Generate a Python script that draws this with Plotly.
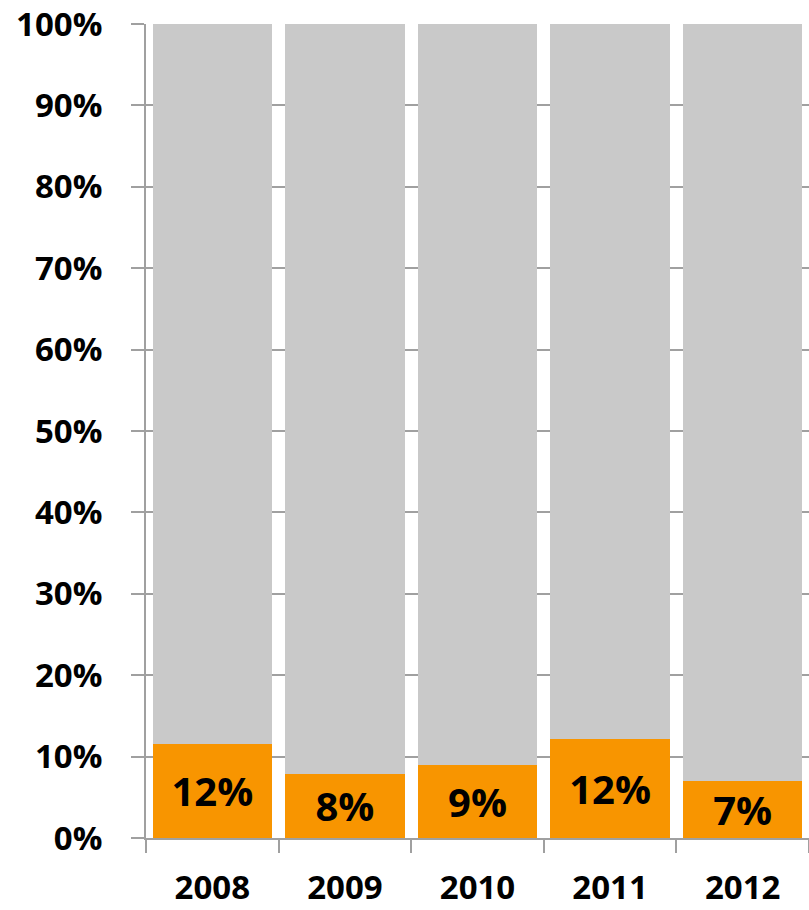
import plotly.graph_objects as go

years = ["2008", "2009", "2010", "2011", "2012"]
share = [11.6, 7.9, 9.0, 12.2, 7.0]          # orange share, percent
rest = [100 - v for v in share]              # remainder up to 100%

ORANGE = "#F89500"
GREY = "#C9C9C9"
AXIS = "#A0A0A0"
FONT = "Open Sans"

fig = go.Figure()
fig.add_trace(go.Bar(
    x=years, y=share, marker=dict(color=ORANGE, line=dict(width=0)),
    texttemplate="%{y:.0f}%", textposition="inside", insidetextanchor="middle",
    constraintext="none",
    textfont=dict(family=FONT, size=40, color="black", weight="bold"),
    hoverinfo="skip",
))
fig.add_trace(go.Bar(
    x=years, y=rest, marker=dict(color=GREY, line=dict(width=0)),
    hoverinfo="skip",
))

fig.update_layout(
    width=809, height=910,
    barmode="stack", bargap=0.1,
    showlegend=False,
    paper_bgcolor="white", plot_bgcolor="white",
    margin=dict(l=146, r=0, t=24, b=72),
    font=dict(family=FONT, color="black"),
)
fig.update_yaxes(
    range=[0, 100], dtick=10, ticksuffix="%",
    showgrid=True, gridcolor=AXIS, gridwidth=2,
    showline=True, linecolor=AXIS, linewidth=2,
    ticks="outside", ticklen=13, tickwidth=2, tickcolor=AXIS,
    ticklabelstandoff=22, automargin=False,
    tickfont=dict(family=FONT, size=33, color="black", weight="bold"),
    zeroline=False,
)
fig.update_xaxes(
    showline=True, linecolor=AXIS, linewidth=2,
    ticks="outside", ticklen=13, tickwidth=2, tickcolor=AXIS,
    tickson="boundaries", ticklabelstandoff=19, automargin=False,
    tickfont=dict(family=FONT, size=33, color="black", weight="bold"),
)

fig.write_html("out.html")
